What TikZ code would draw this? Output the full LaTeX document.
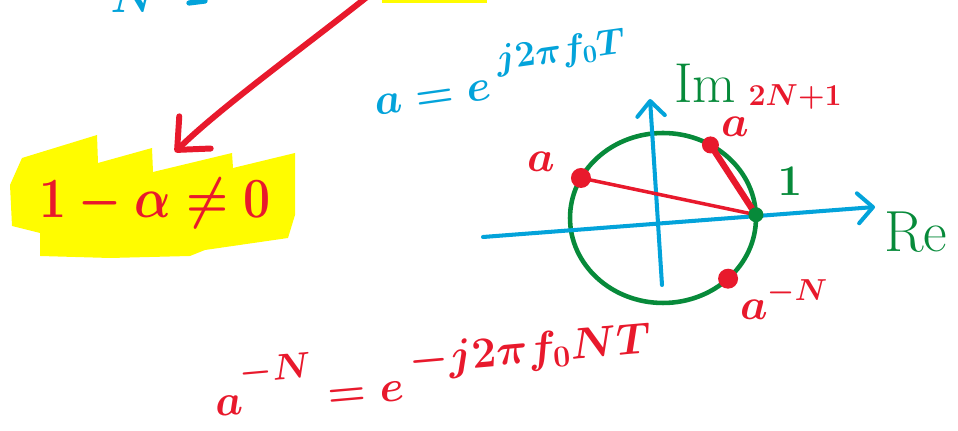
\documentclass[tikz,border=0pt]{standalone}
\usetikzlibrary{arrows.meta, shapes.geometric, positioning}

\definecolor{penred}{HTML}{E8192C}
\definecolor{penblue}{HTML}{03A3DA}
\definecolor{pengreen}{HTML}{078A3A}
\definecolor{marker}{HTML}{FFFC00}

% raised exponent: raise, size, formula
\newcommand{\hsup}[3]{\raisebox{#1}{\fontsize{#2}{#2}\selectfont$#3$}}

\begin{document}
\begin{tikzpicture}[
    x=0.02cm, y=-0.02cm,
    >={Straight Barb[length=0.5cm, width=0.9cm, round]},
    every node/.style={inner sep=0pt, outer sep=0pt},
    pen/.style={line width=#1, line cap=round, line join=round},
    pen/.default=2.3pt,
    hand/.style={font=\fontsize{#1}{#1}\selectfont\boldmath},
    dot/.style={circle, fill=#1, minimum size=0.4cm},
    unit/.style={ellipse, draw=pengreen, line width=2.6pt, minimum width=3.72cm, minimum height=3.4cm}
]
\useasboundingbox (0,0) rectangle (958,431);
\clip (0,0) rectangle (958,431);

% Cut-off strokes at the top
\fill[marker] (382,-6) rectangle (487,3);
\node[hand=40pt, text=penblue, anchor=south] (topn) at (134,13) {$N$};
\draw[penblue, pen=3pt] (189,3) -- (205,1);

% Highlighted condition
\fill[marker] (10,185) -- (22,158) -- (97,135) -- (98,163) -- (152,148) -- (153,172)
    -- (232,153) -- (233,168) -- (295,153) -- (295,215) -- (288,238) -- (205,250)
    -- (190,256) -- (110,258) -- (40,256) -- (40,233) -- (12,226) -- cycle;
\node[hand=47pt, text=penred] (cond) at (155,203) {\scalebox{1.1}[1.3]{$1-\alpha\neq0$}};

% Arrow into the condition
\coordinate (from) at (367,-3);
\coordinate (tip) at (175,152);
\draw[penred, pen=3.4pt, ->] (from) .. controls (300,50) and (220,108) .. (tip);

% Unit circle and axes
\node[unit] (circ) at (663,218) {};
\coordinate (reL) at (483,237);
\coordinate (reR) at (875,207);
\coordinate (imB) at (662,285);
\coordinate (imT) at (650,99);
\draw[penblue, pen, ->, >={Straight Barb[length=0.3cm, width=0.6cm, round]}] (reL) -- (reR);
\draw[penblue, pen, ->, >={Straight Barb[length=0.3cm, width=0.55cm, round]}] (imB) -- (imT);

% Points on the circle
\node[dot=penred] (pa) at (circ.154) {};
\node[dot=penred, minimum size=0.34cm] (ptop) at (circ.57) {};
\node[dot=penred] (pneg) at (circ.-43) {};
\coordinate (one) at (circ.2);
\draw[penred, pen=2pt] (pa.center) -- (one);
\draw[penred, pen=3.6pt] (ptop.center) -- (one);
\node[dot=pengreen, minimum size=0.3cm] (pone) at (one) {};

% Labels
\node[hand=43pt, text=penblue, rotate=8, anchor=base west] (adef) at (376,116)
    {$a=e\,$\hsup{16pt}{22pt}{j2\pi f_0T}};
\node[hand=32pt, text=pengreen] (im) at (705,83) {Im};
\node[hand=33pt, text=pengreen] (re) at (916,232) {Re};
\node[hand=30pt, text=pengreen] (lone) at (790,181) {$1$};
\node[hand=30pt, text=penred] (la) at (541,162) {$a$};
\node[hand=34pt, text=penred, anchor=base west] (ltop) at (721,137)
    {$a$\hsup{18pt}{18pt}{2N{+}1}};
\node[hand=34pt, text=penred, anchor=base west] (lneg) at (740,320)
    {$a$\hsup{11pt}{18pt}{-N}};
\node[hand=46pt, text=penred, rotate=5, anchor=base west] (aneg) at (216,417)
    {$a$\hsup{18pt}{21pt}{-N}$\;=e\,$\hsup{15pt}{25pt}{-j2\pi f_0NT}};
\end{tikzpicture}
\end{document}
